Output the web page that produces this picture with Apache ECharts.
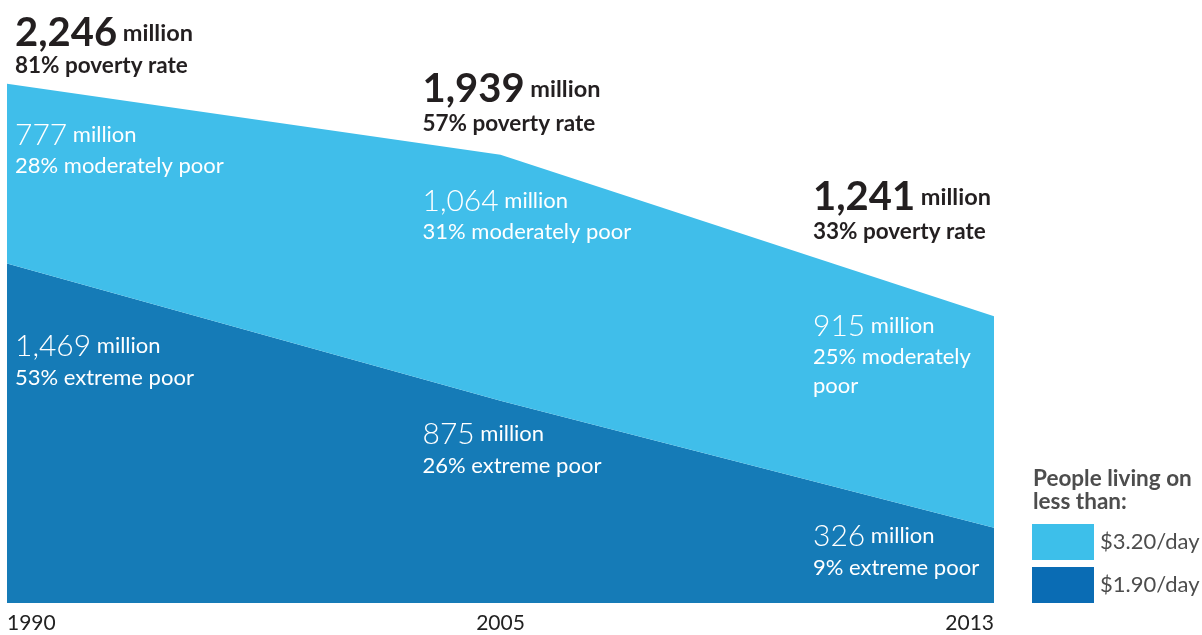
<!DOCTYPE html>
<html><head><meta charset="utf-8">
<script src="https://cdn.jsdelivr.net/npm/echarts@6/dist/echarts.min.js"></script>
<style>html,body{margin:0;padding:0;background:#fff}#c{width:1202px;height:635px}</style>
</head><body><div id="c"></div>
<script>
const years = ['1990', '2005', '2013'];
const extremePoor = [1469, 875, 326];      // $1.90/day, million
const moderatelyPoor = [777, 1064, 915];   // $3.20/day minus $1.90/day, million
const totalPoor = [2246, 1939, 1241];
const povertyRate = [81, 57, 33];
const moderateRate = [28, 31, 25];
const extremeRate = [53, 26, 9];
const legendTitle = ['People living on', 'less than:'];
const legendLabels = ['$3.20/day', '$1.90/day'];

const LIGHT = '#40BEEA', DARK = '#157BB7';
const LEG_LIGHT = '#3DBFEA', LEG_DARK = '#0A6CB4';
const FONT = 'Lato, "Open Sans", sans-serif';
const INK = '#231F20';

const chart = echarts.init(document.getElementById('c'));
function fmt(n){ return n.toLocaleString('en-US'); }

chart.setOption({
  animation: false,
  grid: { left: 7, right: 208, top: 2, bottom: 32 },
  xAxis: {
    type: 'category', data: years, boundaryGap: false,
    axisLine: { show: false }, axisTick: { show: false },
    axisLabel: { color: '#222', fontSize: 21, fontFamily: FONT, margin: 10,
      alignMinLabel: 'left', alignMaxLabel: 'right' }
  },
  yAxis: { type: 'value', min: 0, max: 2600, show: false, splitLine: { show: false } },
  series: [
    { type: 'line', stack: 'p', data: extremePoor, symbol: 'none', lineStyle: { width: 0 },
      areaStyle: { color: DARK, opacity: 1 } },
    { type: 'line', stack: 'p', data: moderatelyPoor, symbol: 'none', lineStyle: { width: 0 },
      areaStyle: { color: LIGHT, opacity: 1 } }
  ]
});

// annotation anchors (pixel x from the category axis)
const xs = years.map((y, i) => chart.convertToPixel({ xAxisIndex: 0 }, i));
const labelX = [xs[0] + 8, xs[1] - 78, xs[2] - 181];
const totY = [33, 89, 197];      // centre of big number line
const rateY = [66, 124, 232];    // centre of rate line
const modY = [135, 201, 326];
const extY = [346, 434, 536];
const modLines = [
  [moderateRate[0] + '% moderately poor'],
  [moderateRate[1] + '% moderately poor'],
  [moderateRate[2] + '% moderately', 'poor']
];

const bigRich = {
  big: { fontSize: 40, fontWeight: 'bold', fill: INK, fontFamily: FONT },
  m: { fontSize: 23.5, fontWeight: 'bold', fill: INK, fontFamily: FONT }
};
const wRich = {
  n: { fontSize: 30, fill: '#fff', fontFamily: FONT, fontWeight: 300 },
  m: { fontSize: 22, fill: '#fff', fontFamily: FONT }
};

const els = [];
function txt(x, y, style) {
  els.push({ type: 'text', x: x, y: y, z: 100, style: Object.assign({ verticalAlign: 'middle' }, style) });
}
years.forEach((y, i) => {
  const x = labelX[i];
  txt(x, totY[i], { text: '{big|' + fmt(totalPoor[i]) + '}{m| million}', rich: bigRich });
  txt(x, rateY[i], { text: povertyRate[i] + '% poverty rate', font: 'bold 22.5px ' + FONT, fill: INK });
  txt(x, modY[i], { text: '{n|' + fmt(moderatelyPoor[i]) + '}{m| million}', rich: wRich });
  modLines[i].forEach((s, k) => txt(x, modY[i] + 31 + k * 29, { text: s, font: '22px ' + FONT, fill: '#fff' }));
  txt(x, extY[i], { text: '{n|' + fmt(extremePoor[i]) + '}{m| million}', rich: wRich });
  txt(x, extY[i] + 32, { text: extremeRate[i] + '% extreme poor', font: '22px ' + FONT, fill: '#fff' });
});
// legend
txt(1033, 479, { text: legendTitle[0], font: 'bold 22.5px ' + FONT, fill: '#4D4D4D' });
txt(1033, 502, { text: legendTitle[1], font: 'bold 22.5px ' + FONT, fill: '#4D4D4D' });
els.push({ type: 'rect', z: 100, shape: { x: 1032, y: 524, width: 62, height: 36 }, style: { fill: LEG_LIGHT } });
els.push({ type: 'rect', z: 100, shape: { x: 1032, y: 567, width: 62, height: 36 }, style: { fill: LEG_DARK } });
txt(1100, 542, { text: legendLabels[0], font: '22px ' + FONT, fill: '#4D4D4D' });
txt(1100, 585, { text: legendLabels[1], font: '22px ' + FONT, fill: '#4D4D4D' });

chart.setOption({ graphic: { elements: els } });
</script></body></html>
